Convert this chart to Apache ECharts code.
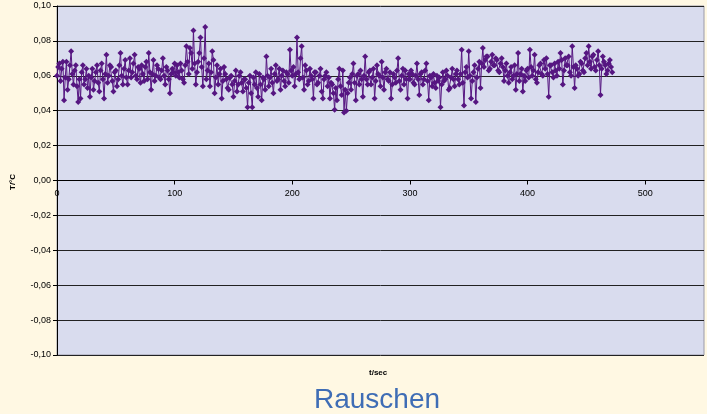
<!DOCTYPE html>
<html>
<head>
<meta charset="utf-8">
<script src="https://cdn.jsdelivr.net/npm/echarts@6/dist/echarts.min.js"></script>
<style>
html,body{margin:0;padding:0;background:#FFF8E3;}
#c{width:707px;height:414px;}
</style>
</head>
<body>
<div id="c"></div>
<script>
// time step (seconds) between samples
const tStep = 1;
// measured temperature noise, T/°C, one value per second starting at t=0
const tempValues = [
  0.060,0.065,0.067,0.057,0.064,0.068,0.046,0.059,0.068,0.052,0.058,0.066,0.074,0.061,0.055,0.063,0.066,0.054,0.045,0.058,
  0.047,0.062,0.066,0.055,0.058,0.064,0.053,0.060,0.048,0.059,0.064,0.052,0.057,0.062,0.066,0.056,0.051,0.063,0.067,0.058,
  0.047,0.061,0.072,0.056,0.060,0.066,0.065,0.057,0.051,0.062,0.063,0.054,0.058,0.066,0.073,0.060,0.055,0.064,0.069,0.059,
  0.055,0.063,0.070,0.059,0.062,0.067,0.072,0.060,0.058,0.065,0.064,0.056,0.066,0.061,0.057,0.065,0.068,0.058,0.073,0.062,
  0.052,0.061,0.069,0.057,0.060,0.066,0.064,0.059,0.058,0.063,0.070,0.060,0.055,0.065,0.063,0.058,0.050,0.061,0.064,0.062,
  0.067,0.060,0.066,0.062,0.059,0.067,0.063,0.058,0.056,0.066,0.077,0.068,0.061,0.076,0.073,0.064,0.086,0.067,0.055,0.062,
  0.068,0.073,0.082,0.065,0.054,0.070,0.088,0.058,0.063,0.067,0.054,0.062,0.074,0.069,0.050,0.059,0.066,0.055,0.061,0.064,
  0.047,0.057,0.065,0.061,0.058,0.053,0.052,0.059,0.060,0.055,0.048,0.057,0.063,0.051,0.055,0.060,0.062,0.056,0.051,0.058,
  0.058,0.053,0.042,0.056,0.060,0.050,0.042,0.059,0.055,0.062,0.053,0.048,0.061,0.055,0.046,0.059,0.058,0.052,0.071,0.060,
  0.054,0.059,0.064,0.056,0.050,0.061,0.066,0.057,0.058,0.064,0.052,0.060,0.063,0.057,0.054,0.062,0.061,0.056,0.075,0.063,
  0.060,0.065,0.054,0.061,0.082,0.062,0.058,0.070,0.077,0.059,0.052,0.066,0.063,0.055,0.057,0.064,0.060,0.058,0.047,0.062,
  0.062,0.055,0.056,0.060,0.064,0.051,0.047,0.058,0.060,0.062,0.054,0.059,0.047,0.056,0.055,0.050,0.0405,0.053,0.046,0.058,
  0.064,0.054,0.049,0.063,0.039,0.052,0.040,0.050,0.056,0.059,0.052,0.061,0.067,0.056,0.046,0.060,0.061,0.055,0.063,0.058,
  0.048,0.060,0.071,0.058,0.055,0.062,0.063,0.055,0.059,0.064,0.047,0.057,0.066,0.061,0.060,0.054,0.068,0.059,0.052,0.062,
  0.064,0.058,0.057,0.062,0.047,0.055,0.061,0.059,0.056,0.063,0.070,0.057,0.052,0.060,0.064,0.055,0.063,0.058,0.047,0.061,
  0.058,0.063,0.061,0.056,0.055,0.060,0.067,0.058,0.049,0.061,0.062,0.055,0.058,0.063,0.067,0.057,0.046,0.060,0.059,0.054,
  0.061,0.056,0.053,0.060,0.057,0.059,0.042,0.055,0.062,0.057,0.058,0.063,0.060,0.052,0.053,0.059,0.064,0.058,0.054,0.061,
  0.063,0.058,0.055,0.061,0.075,0.056,0.043,0.062,0.065,0.059,0.074,0.060,0.047,0.057,0.062,0.066,0.045,0.059,0.064,0.068,
  0.053,0.067,0.076,0.065,0.069,0.071,0.071,0.063,0.064,0.068,0.072,0.066,0.066,0.070,0.069,0.063,0.062,0.067,0.070,0.065,
  0.057,0.063,0.067,0.060,0.056,0.062,0.065,0.058,0.060,0.066,0.052,0.061,0.073,0.057,0.061,0.064,0.051,0.060,0.057,0.063,
  0.064,0.059,0.075,0.065,0.060,0.063,0.072,0.058,0.056,0.062,0.066,0.067,0.061,0.060,0.069,0.064,0.070,0.061,0.048,0.066,
  0.066,0.062,0.059,0.067,0.063,0.060,0.068,0.064,0.073,0.069,0.055,0.063,0.070,0.066,0.066,0.071,0.062,0.060,0.077,0.065,
  0.053,0.066,0.064,0.060,0.061,0.068,0.067,0.063,0.062,0.070,0.073,0.066,0.077,0.068,0.064,0.071,0.072,0.065,0.063,0.069,
  0.074,0.066,0.049,0.064,0.071,0.068,0.066,0.061,0.063,0.067,0.069,0.065,0.062
];
const xTicks = [0, 100, 200, 300, 400, 500];
const yTicks = [-0.10, -0.08, -0.06, -0.04, -0.02, 0.00, 0.02, 0.04, 0.06, 0.08, 0.10];

const seriesData = tempValues.map((v, i) => [i * tStep, v]);

const chart = echarts.init(document.getElementById('c'), null, {renderer: 'canvas'});
const font = '"Liberation Sans", Arial, sans-serif';
const gridTop = 6, gridBottom = 59, H = 414;
const plotH = H - gridTop - gridBottom;
chart.setOption({
  backgroundColor: '#FFF8E3',
  animation: false,
  textStyle: {fontFamily: font},
  title: {
    text: 'Rauschen',
    left: 309,
    top: 381,
    textStyle: {fontSize: 28, fontWeight: 'normal', color: '#3F6DB5', fontFamily: font}
  },
  grid: {
    left: 57, right: 3, top: gridTop, bottom: gridBottom,
    show: true, backgroundColor: '#D9DCEE', borderColor: '#9A9AA8', borderWidth: 1
  },
  xAxis: {
    type: 'value',
    min: 0, max: 550, interval: 100,
    offset: -plotH / 2,
    axisLine: {onZero: false, lineStyle: {color: '#000', width: 1}},
    axisTick: {show: true, length: 4, inside: false, lineStyle: {color: '#000'}},
    axisLabel: {
      fontSize: 9, color: '#000', margin: 9, showMaxLabel: false,
      formatter: v => (xTicks.indexOf(v) >= 0 ? String(v) : '')
    },
    splitLine: {show: false}
  },
  yAxis: {
    type: 'value',
    min: -0.1, max: 0.1, interval: 0.02,
    axisLine: {show: true, lineStyle: {color: '#000', width: 1}},
    axisTick: {show: true, length: 4, lineStyle: {color: '#000'}},
    axisLabel: {
      fontSize: 9, color: '#000', margin: 6,
      formatter: v => {
        let best = yTicks.reduce((a, b) => Math.abs(b - v) < Math.abs(a - v) ? b : a);
        return best.toFixed(2).replace('.', ',');
      }
    },
    splitLine: {show: true, lineStyle: {color: '#222', width: 1}}
  },
  graphic: [
    {type: 'text', left: 369, top: 369, style: {text: 't/sec', fontSize: 8, fontWeight: 'bold', fill: '#000', fontFamily: font}},
    {type: 'text', x: 13, y: 190, rotation: Math.PI / 2, style: {text: 'T/°C', fontSize: 8, fontWeight: 'bold', fill: '#000', fontFamily: font, align: 'left', verticalAlign: 'middle'}}
  ],
  series: [{
    type: 'line',
    data: seriesData,
    symbol: 'diamond',
    symbolSize: 6,
    showAllSymbol: true,
    lineStyle: {color: '#561681', width: 1},
    itemStyle: {color: '#561681'},
    z: 3
  }]
});
</script>
</body>
</html>
